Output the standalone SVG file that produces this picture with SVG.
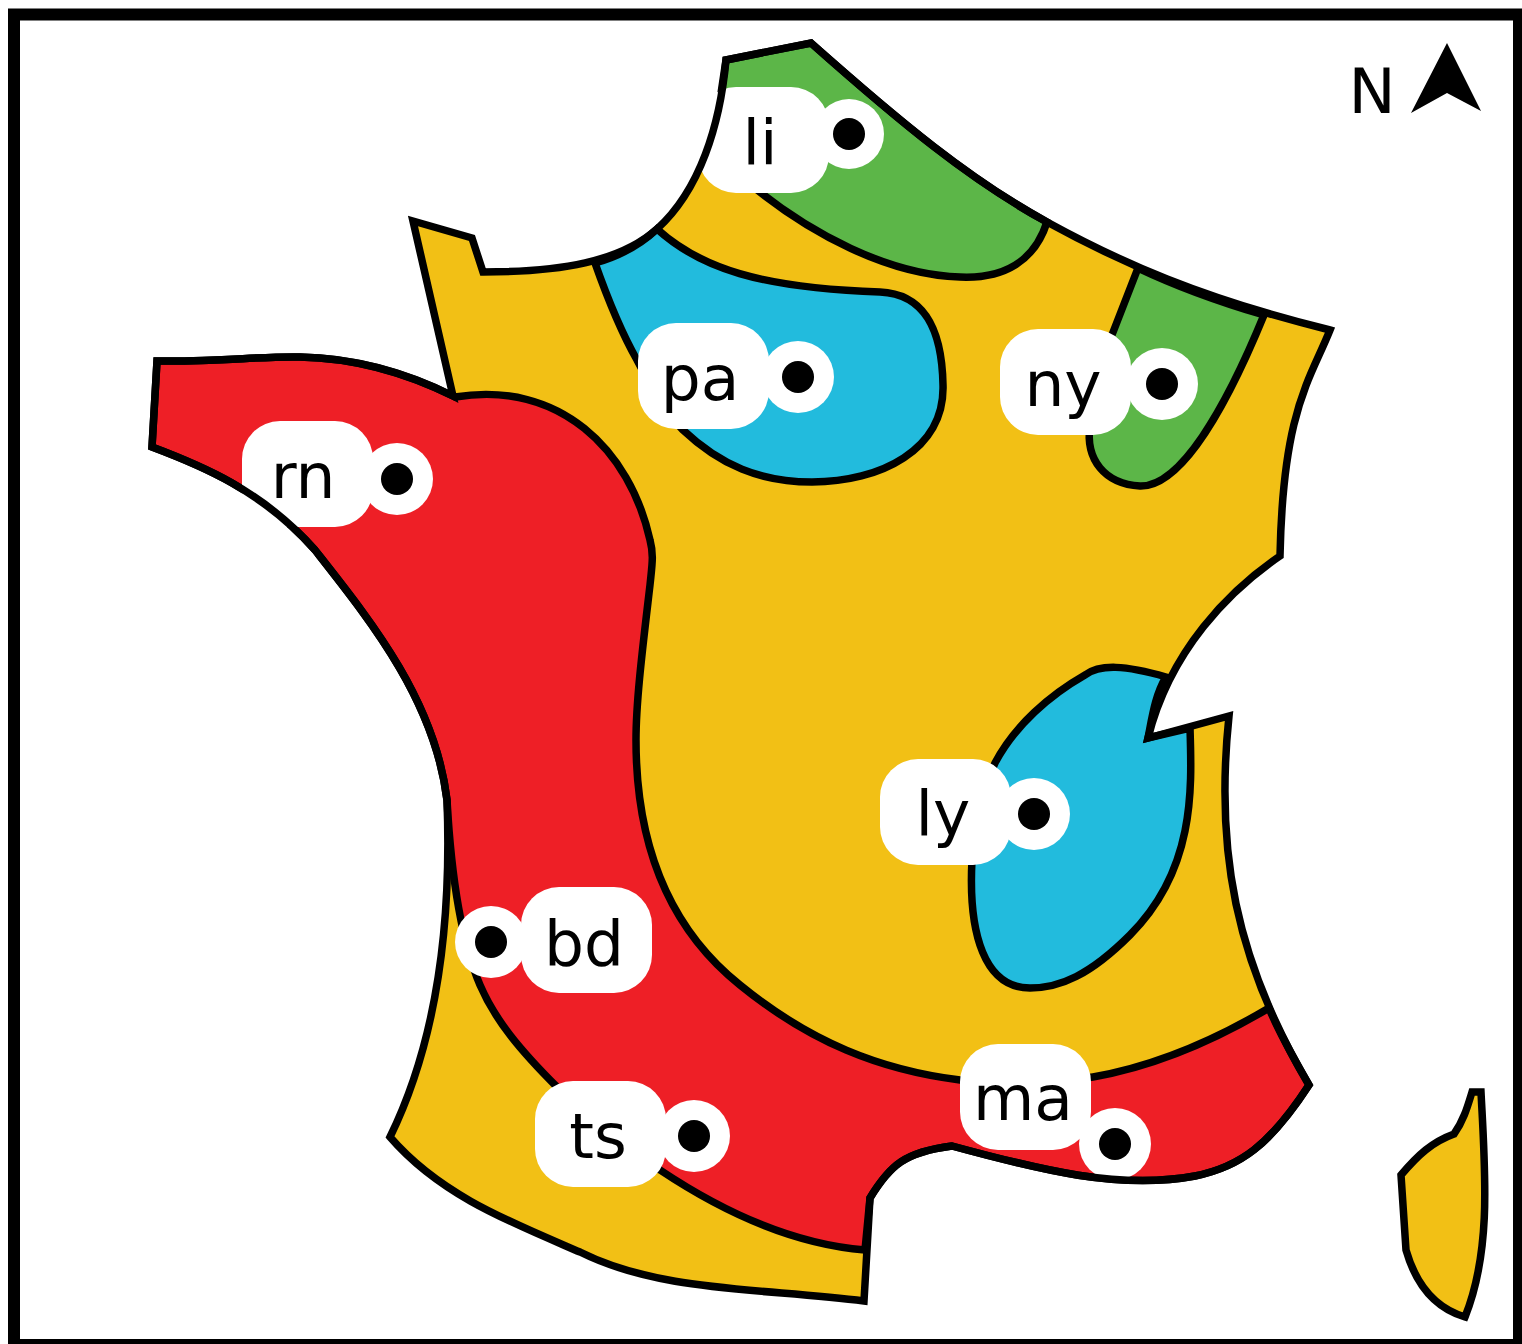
<svg xmlns="http://www.w3.org/2000/svg" width="1522" height="1344" viewBox="0 0 1522 1344">
<style>
.o{stroke:#000;stroke-width:7.5;stroke-linejoin:miter}
.n{fill:none}
.y{fill:#f2c015}.r{fill:#ee1f26}.b{fill:#22bbdd}.g{fill:#5cb648}
.lb{fill:#fff}
.t{font-family:"DejaVu Sans","Liberation Sans",sans-serif;font-size:63px;fill:#000;text-anchor:middle}
</style>
<rect width="1522" height="1344" fill="#fff"/>
<rect x="14" y="14.5" width="1505" height="1330.5" fill="#fff" stroke="#000" stroke-width="12"/>
<g id="map">
<path id="france" class="y" d="M726 60L811 43C900 122 970 180 1047 222C1120 262 1200 298 1330 330C1310 380 1283 410 1280 556C1230 590 1170 650 1148 738L1229 716C1215 850 1235 960 1309 1085C1270 1145 1240 1167 1195 1176C1120 1190 1040 1170 952 1146C905 1152 890 1165 870 1198L864 1301C760 1288 660 1292 580 1252C510 1222 440 1195 390 1137C435 1045 452 930 447 800C435 700 370 620 315 550L453 396L413 221L472 238L483 272C560 272 620 262 657 229C700 190 720 125 726 60Z"/>
<path id="corsica-fill" class="y" d="M1401 1175C1418 1155 1432 1142 1454 1134C1464 1120 1468 1105 1472 1092L1481 1092C1485 1170 1492 1250 1465 1317C1435 1308 1416 1285 1406 1250Z"/>
<path id="green-n" class="o g" d="M720 100L726 60L811 43C900 122 970 180 1047 222C1035 260 1005 279 960 277C890 275 810 235 745 180Z"/>
<path id="green-e" class="o g" d="M1138 268C1180 288 1220 302 1264 315C1225 410 1180 487 1140 486C1105 484 1085 460 1090 425L1110 340Z"/>
<path id="blue-n" class="o b" d="M657 229C700 268 760 288 880 292C925 294 942 330 943 385C945 450 880 482 812 482C760 482 720 465 683 430C665 412 650 385 637 360C620 330 607 297 595 263C620 256 640 245 657 229Z"/>
<path id="blue-e" class="o b" d="M1166 677C1155 695 1152 718 1148 738L1190 728C1192 790 1195 870 1130 935C1090 975 1060 988 1030 988C985 988 968 935 972 860C975 820 985 785 995 763C1015 725 1050 695 1085 675C1100 664 1125 665 1166 677Z"/>
<path id="red" class="o r" d="M157 361C220 362 260 356 300 357C355 358 405 372 455 397C560 380 630 450 650 540C654 555 652 565 650 585C643 645 636 700 636 740C636 840 665 925 740 985C810 1042 880 1070 960 1080C1010 1086 1050 1084 1093 1077C1150 1067 1210 1043 1269 1008C1280 1035 1295 1060 1309 1085C1270 1145 1240 1167 1195 1176C1120 1190 1040 1170 952 1146C905 1152 890 1165 870 1198L865 1250C790 1244 720 1210 660 1170C620 1145 590 1118 557 1087C520 1050 495 1020 480 985C465 950 452 890 447 800C435 700 370 620 315 550C262 490 200 465 152 447Z"/>
</g>
<g id="north">
<text class="t" x="1372" y="113">N</text>
<path d="M1447 43L1481 111L1447 93L1411 113Z" fill="#000"/>
</g>
<g id="node-li"><rect class="lb" x="698" y="87" width="131" height="106" rx="38"/><circle class="lb" cx="849" cy="134" r="35"/><circle cx="849" cy="134" r="16"/><text class="t" x="760" y="164">li</text></g>
<g id="node-pa"><rect class="lb" x="638" y="323" width="131" height="106" rx="38"/><circle class="lb" cx="798" cy="377" r="36"/><circle cx="798" cy="377" r="16"/><text class="t" x="700" y="400">pa</text></g>
<g id="node-ny"><rect class="lb" x="1000" y="329" width="131" height="106" rx="38"/><circle class="lb" cx="1162" cy="384" r="36"/><circle cx="1162" cy="384" r="16"/><text class="t" x="1063" y="406">ny</text></g>
<g id="node-rn"><rect class="lb" x="242" y="421" width="131" height="106" rx="38"/><circle class="lb" cx="397" cy="479" r="36"/><circle cx="397" cy="479" r="16"/><text class="t" x="303" y="498">rn</text></g>
<g id="node-ly"><rect class="lb" x="880" y="759" width="131" height="106" rx="38"/><circle class="lb" cx="1034" cy="814" r="36"/><circle cx="1034" cy="814" r="16"/><text class="t" x="943" y="835">ly</text></g>
<g id="node-bd"><circle class="lb" cx="491" cy="942" r="36"/><rect class="lb" x="521" y="887" width="131" height="106" rx="38"/><circle cx="491" cy="942" r="16"/><text class="t" x="584" y="965">bd</text></g>
<g id="node-ts"><rect class="lb" x="535" y="1081" width="131" height="106" rx="38"/><circle class="lb" cx="694" cy="1136" r="36"/><circle cx="694" cy="1136" r="16"/><text class="t" x="598" y="1158">ts</text></g>
<g id="node-ma"><circle class="lb" cx="1115" cy="1144" r="36"/><rect class="lb" x="960" y="1044" width="131" height="106" rx="38"/><circle cx="1115" cy="1144" r="16"/><text class="t" x="1023" y="1120">ma</text></g>
<g id="connectors">
<path id="coast" class="o n" d="M726 60L811 43C900 122 970 180 1047 222C1120 262 1200 298 1330 330C1310 380 1283 410 1280 556C1230 590 1170 650 1148 738L1229 716C1215 850 1235 960 1309 1085C1270 1145 1240 1167 1195 1176C1120 1190 1040 1170 952 1146C905 1152 890 1165 870 1198L864 1301C760 1288 660 1292 580 1252C510 1222 440 1195 390 1137C435 1045 452 930 447 800C435 700 370 620 315 550C262 490 200 465 152 447L157 361C220 362 260 356 300 357C355 358 405 372 453 396L413 221L472 238L483 272C560 272 620 262 657 229C700 190 720 125 726 60Z"/>
<path id="corsica" class="o n" d="M1401 1175C1418 1155 1432 1142 1454 1134C1464 1120 1468 1105 1472 1092L1481 1092C1485 1170 1492 1250 1465 1317C1435 1308 1416 1285 1406 1250Z"/>
</g>
</svg>
